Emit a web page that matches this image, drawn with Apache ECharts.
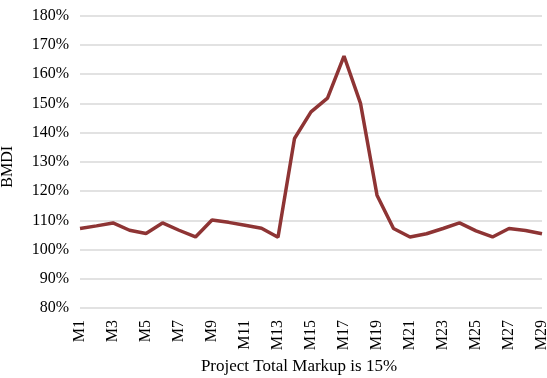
<!DOCTYPE html>
<html><head><meta charset="utf-8">
<script src="https://cdn.jsdelivr.net/npm/echarts@6/dist/echarts.min.js"></script>
<style>html,body{margin:0;padding:0;background:#fff}#c{width:547px;height:378px}</style>
</head><body><div id="c"></div>
<script>
const categories = ["M1","M2","M3","M4","M5","M6","M7","M8","M9","M10","M11","M12","M13","M14","M15","M16","M17","M18","M19","M20","M21","M22","M23","M24","M25","M26","M27","M28","M29"];
const bmdi = [107.2,108.1,109.1,106.6,105.5,109.1,106.6,104.3,110.1,109.3,108.3,107.3,104.2,138,147.1,151.8,166.2,150,118.6,107.2,104.3,105.4,107.2,109.1,106.4,104.3,107.2,106.5,105.4];
const yMin = 80, yMax = 180, yStep = 10;
const xTitle = "Project Total Markup is 15%";
const yTitle = "BMDI";
const font = "Liberation Serif";
const chart = echarts.init(document.getElementById('c'));
chart.setOption({
  animation:false,
  grid:{left:80,right:5,top:15.7,bottom:70,containLabel:false,outerBoundsMode:'none'},
  xAxis:{type:'category',data:categories,boundaryGap:false,
    axisLine:{show:false},axisTick:{show:false},
    axisLabel:{interval:1,rotate:90,margin:12,color:'#000',fontFamily:font,fontSize:16},
    name:xTitle,nameLocation:'middle',nameGap:50,
    nameTextStyle:{color:'#000',fontFamily:font,fontSize:17,padding:[0,24,0,0]}},
  yAxis:{type:'value',min:yMin,max:yMax,interval:yStep,
    axisLine:{show:false},axisTick:{show:false},
    splitLine:{lineStyle:{color:'#d9d9d9',width:1.5}},
    axisLabel:{formatter:v=>v+'%',margin:11,color:'#000',fontFamily:font,fontSize:16},
    name:yTitle,nameLocation:'middle',nameGap:64,
    nameTextStyle:{color:'#000',fontFamily:font,fontSize:16,padding:[0,10,0,0]}},
  series:[{type:'line',data:bmdi,symbol:'none',
    lineStyle:{color:'#8e3434',width:3.5}}]
});
</script></body></html>
